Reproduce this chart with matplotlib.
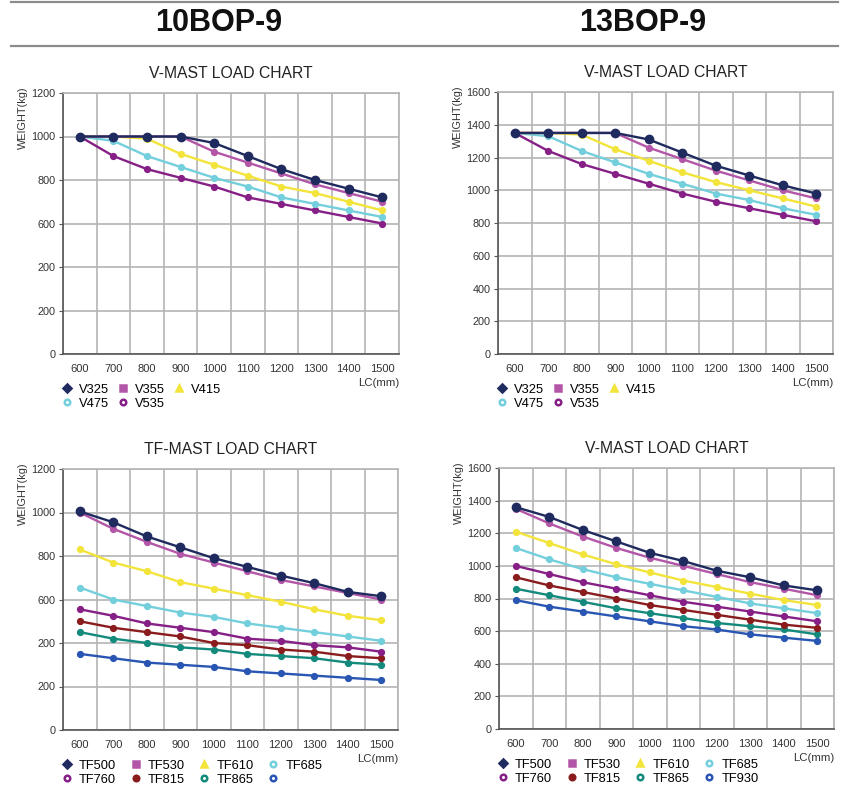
import matplotlib
matplotlib.use("Agg")
import matplotlib.pyplot as plt
from matplotlib.lines import Line2D
import numpy as np

plt.rcParams['font.family'] = ['Liberation Sans', 'DejaVu Sans']

# categories (load centre, mm)
lc = ['600', '700', '800', '900', '1000', '1100', '1200', '1300', '1400', '1500']

# 10BOP-9, V-mast
v_names = ['V325', 'V355', 'V415', 'V475', 'V535']
v10_v325 = [1000, 1000, 1000, 1000, 970, 910, 850, 800, 760, 720]
v10_v355 = [1000, 1000, 1000, 1000, 930, 880, 830, 780, 740, 700]
v10_v415 = [1000, 1000, 990, 920, 870, 820, 770, 740, 700, 660]
v10_v475 = [1000, 980, 910, 860, 810, 770, 720, 690, 660, 630]
v10_v535 = [1000, 910, 850, 810, 770, 720, 690, 660, 630, 600]

# 13BOP-9, V-mast
v13_v325 = [1350, 1350, 1350, 1350, 1310, 1230, 1150, 1090, 1030, 980]
v13_v355 = [1350, 1350, 1350, 1350, 1260, 1190, 1120, 1060, 1000, 950]
v13_v415 = [1350, 1350, 1340, 1250, 1180, 1110, 1050, 1000, 950, 900]
v13_v475 = [1350, 1330, 1240, 1170, 1100, 1040, 980, 940, 890, 850]
v13_v535 = [1350, 1240, 1160, 1100, 1040, 980, 930, 890, 850, 810]

# 10BOP-9, TF-mast
tf_names = ['TF500', 'TF530', 'TF610', 'TF685', 'TF760', 'TF815', 'TF865', 'TF930']
tf10_names = ['TF500', 'TF530', 'TF610', 'TF685', 'TF760', 'TF815', 'TF865', '']
tf10_tf500 = [1005, 955, 890, 840, 790, 750, 710, 675, 635, 615]
tf10_tf530 = [1000, 925, 865, 810, 770, 730, 690, 660, 630, 600]
tf10_tf610 = [830, 770, 730, 680, 650, 620, 590, 555, 525, 505]
tf10_tf685 = [655, 600, 570, 540, 520, 490, 470, 450, 430, 410]
tf10_tf760 = [555, 525, 490, 470, 450, 420, 410, 390, 380, 360]
tf10_tf815 = [500, 470, 450, 430, 400, 390, 370, 360, 340, 330]
tf10_tf865 = [450, 420, 400, 380, 370, 350, 340, 330, 310, 300]
tf10_tf930 = [350, 330, 310, 300, 290, 270, 260, 250, 240, 230]

# 13BOP-9, TF-mast
tf13_tf500 = [1360, 1300, 1220, 1150, 1080, 1030, 970, 930, 880, 850]
tf13_tf530 = [1350, 1260, 1180, 1110, 1050, 1000, 950, 900, 860, 820]
tf13_tf610 = [1210, 1140, 1070, 1010, 960, 910, 870, 830, 790, 760]
tf13_tf685 = [1110, 1040, 980, 930, 890, 850, 810, 770, 740, 710]
tf13_tf760 = [1000, 950, 900, 860, 820, 780, 750, 720, 690, 660]
tf13_tf815 = [930, 880, 840, 800, 760, 730, 700, 670, 640, 620]
tf13_tf865 = [860, 820, 780, 740, 710, 680, 650, 630, 610, 580]
tf13_tf930 = [790, 750, 720, 690, 660, 630, 610, 580, 560, 540]

# y tick labels as printed on the original sheets
y_labels_1200 = ['0', '200', '200', '600', '800', '1000', '1200']
y_labels_1600 = ['0', '200', '400', '600', '800', '1000', '1200', '1400', '1600']

# styles
colors = ['#1f2a5e', '#b356a8', '#f2e43a', '#74cfdc', '#861f86', '#8a1c1e', '#138a7c', '#2955b3']
legend_markers = ['D', 's', '^', 'o', 'o', 'o', 'o', 'o']
legend_fill = [True, True, True, False, False, True, False, False]
marker_sizes = [6, 4.2, 4.2, 4.2, 4.2, 4.2, 4.2, 4.2]

W, H = 852, 789
fig = plt.figure(figsize=(W / 100, H / 100), dpi=100)


def px_axes(left, top, right, bottom):
    return fig.add_axes([left / W, 1 - bottom / H, (right - left) / W, (bottom - top) / H])


def draw_chart(ax, series, names, ymax, ylabels, title, ncol, colspace):
    x = np.arange(len(lc))
    n = len(series)
    for i, vals in enumerate(series):
        ax.plot(x, vals, color=colors[i], lw=1.7, marker='o', ms=marker_sizes[i],
                mec=colors[i], mfc=colors[i], zorder=10 + n - i, clip_on=False)
    ax.set_xlim(-0.5, len(lc) - 0.5)
    ax.set_ylim(0, ymax)
    ax.set_xticks(x)
    ax.set_xticklabels(lc)
    ax.set_xticks(np.arange(len(lc) + 1) - 0.5, minor=True)
    yt = np.arange(0, ymax + 1, 200)
    ax.set_yticks(yt)
    ax.set_yticklabels(ylabels)
    ax.grid(True, which='minor', axis='x', color='#b4b4b4', lw=1.2)
    ax.grid(True, which='major', axis='y', color='#b4b4b4', lw=1.2)
    ax.set_axisbelow(True)
    ax.tick_params(axis='x', which='both', length=0, pad=7, labelsize=8, labelcolor='#333333')
    ax.tick_params(axis='y', length=3, pad=2.5, labelsize=7.8, labelcolor='#333333', color='#555555')
    for s in ['top', 'right']:
        ax.spines[s].set_color('#b4b4b4')
        ax.spines[s].set_linewidth(1.2)
    for s in ['left', 'bottom']:
        ax.spines[s].set_color('#555555')
        ax.spines[s].set_linewidth(1.2)
    ax.set_title(title, fontsize=11.3, color='#222222', pad=11)
    ax.text(-0.119, 1.025, 'WEIGHT(kg)', rotation=90, ha='center', va='top',
            fontsize=7.8, color='#333333', transform=ax.transAxes)
    ax.text(1.0, -0.11, 'LC(mm)', ha='right', va='center', fontsize=8.2,
            color='#333333', transform=ax.transAxes)

    handles = []
    for i, name in enumerate(names):
        handles.append(Line2D([], [], ls='none', marker=legend_markers[i],
                              ms=4.5 if legend_markers[i] != 'o' else 4,
                              mec=colors[i], mew=1.8,
                              mfc=colors[i] if legend_fill[i] else 'white', label=name))
    nrows = int(np.ceil(len(handles) / ncol))
    order = []
    for c in range(ncol):
        for r in range(nrows):
            k = r * ncol + c
            if k < len(handles):
                order.append(k)
    ax.legend([handles[k] for k in order], [names[k] for k in order], ncol=ncol,
              loc='upper left', bbox_to_anchor=(-0.006, -0.113), frameon=False,
              fontsize=9.3, handlelength=0.9, handletextpad=0.5, columnspacing=colspace,
              labelspacing=0.18, borderaxespad=0, borderpad=0)


ax1 = px_axes(63, 93, 399, 354)
draw_chart(ax1, [v10_v325, v10_v355, v10_v415, v10_v475, v10_v535], v_names,
           1200, y_labels_1200, 'V-MAST LOAD CHART', 3, 0.6)

ax2 = px_axes(498, 92, 833, 354)
draw_chart(ax2, [v13_v325, v13_v355, v13_v415, v13_v475, v13_v535], v_names,
           1600, y_labels_1600, 'V-MAST LOAD CHART', 3, 0.6)

ax3 = px_axes(63, 469, 398, 730)
draw_chart(ax3, [tf10_tf500, tf10_tf530, tf10_tf610, tf10_tf685, tf10_tf760,
                 tf10_tf815, tf10_tf865, tf10_tf930], tf10_names,
           1200, y_labels_1200, 'TF-MAST LOAD CHART', 4, 1.05)

ax4 = px_axes(499, 468, 834, 729)
draw_chart(ax4, [tf13_tf500, tf13_tf530, tf13_tf610, tf13_tf685, tf13_tf760,
                 tf13_tf815, tf13_tf865, tf13_tf930], tf_names,
           1600, y_labels_1600, 'V-MAST LOAD CHART', 4, 1.05)

# header band
for yy in [1.5, 46]:
    fig.add_artist(Line2D([11 / W, 838 / W], [1 - yy / H, 1 - yy / H], color='#8c8c8c', lw=1.6))
fig.text(219 / W, 1 - 23 / H, '10BOP-9', ha='center', va='center', fontsize=22,
         fontweight='bold', color='#111111')
fig.text(643 / W, 1 - 23 / H, '13BOP-9', ha='center', va='center', fontsize=22,
         fontweight='bold', color='#111111')

fig.savefig('out.png', dpi=100)
